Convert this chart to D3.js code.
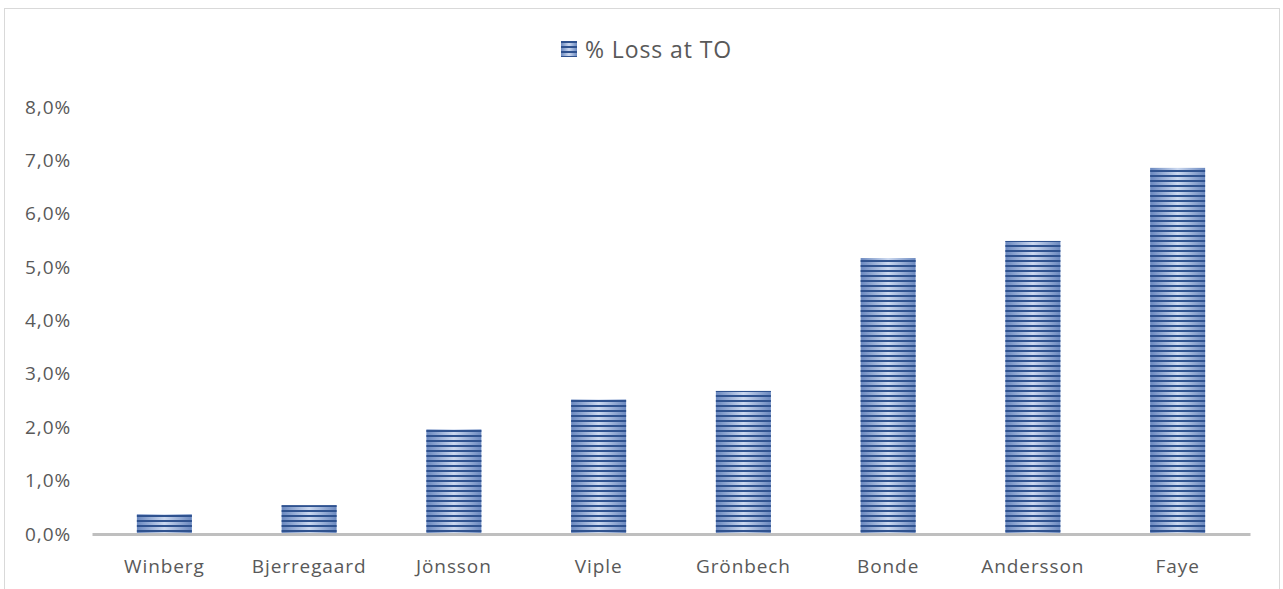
<!DOCTYPE html>
<html>
<head>
<meta charset="utf-8">
<script src="https://cdn.jsdelivr.net/npm/d3@7"></script>
<style>
  body { margin: 0; background: #fff; }
  svg text { font-family: "Open Sans", "Noto Sans", sans-serif; fill: #595959; }
</style>
</head>
<body>
<div id="chart"></div>
<script>
const categories = ["Winberg", "Bjerregaard", "Jönsson", "Viple", "Grönbech", "Bonde", "Andersson", "Faye"];
const lossValues = [0.37, 0.54, 1.96, 2.52, 2.68, 5.17, 5.49, 6.86];
const yTicks = [0, 1, 2, 3, 4, 5, 6, 7, 8];
const seriesName = "% Loss at TO";

const width = 1283, height = 589;
const margin = { top: 107, right: 33, bottom: 55, left: 92 };

const svg = d3.select("#chart").append("svg")
  .attr("width", width)
  .attr("height", height);

const defs = svg.append("defs");

// light body of each bar, darker toward its edges
const grad = defs.append("linearGradient")
  .attr("id", "barGrad")
  .attr("x1", "0").attr("y1", "0").attr("x2", "100%").attr("y2", "0");
grad.append("stop").attr("offset", "0%").attr("stop-color", "#6a88bf");
grad.append("stop").attr("offset", "50%").attr("stop-color", "#cbd8ef");
grad.append("stop").attr("offset", "100%").attr("stop-color", "#6a88bf");

// horizontal dark stripes
const stripes = defs.append("pattern")
  .attr("id", "stripes")
  .attr("patternUnits", "userSpaceOnUse")
  .attr("width", 10)
  .attr("height", 5);
stripes.append("rect")
  .attr("width", 10).attr("height", 2)
  .attr("fill", "#2f528f");

// chart border
svg.append("rect")
  .attr("x", 4.5).attr("y", 8.5)
  .attr("width", 1275).attr("height", 700)
  .attr("fill", "none")
  .attr("stroke", "#d9d9d9");

const x = d3.scaleBand()
  .domain(categories)
  .range([margin.left, width - margin.right])
  .paddingInner(0.62)
  .paddingOuter(0.31);

const y = d3.scaleLinear()
  .domain([0, 8])
  .range([height - margin.bottom, margin.top]);

const g = svg.append("g");

// bars
const bars = g.selectAll("g.bar")
  .data(categories.map((c, i) => ({ name: c, value: lossValues[i] })))
  .join("g")
  .attr("class", "bar");

bars.append("rect")
  .attr("x", d => x(d.name))
  .attr("y", d => y(d.value))
  .attr("width", x.bandwidth())
  .attr("height", d => y(0) - y(d.value))
  .attr("fill", "url(#barGrad)");

bars.append("rect")
  .attr("x", d => x(d.name))
  .attr("y", d => y(d.value))
  .attr("width", x.bandwidth())
  .attr("height", d => y(0) - y(d.value))
  .attr("fill", "url(#stripes)");

// y axis labels
const yAxis = d3.axisLeft(y)
  .tickValues(yTicks)
  .tickSize(0)
  .tickPadding(0)
  .tickFormat(d => d3.format(".1f")(d).replace(".", ",") + "%");

svg.append("g")
  .attr("transform", "translate(71,0)")
  .call(yAxis)
  .call(s => s.select(".domain").remove())
  .call(s => s.selectAll("text")
    .attr("font-size", 19)
    .attr("letter-spacing", "0.9px")
    .attr("font-family", null)
    .attr("fill", "#595959"));

// x axis
const xAxis = d3.axisBottom(x).tickSize(0).tickPadding(0);

svg.append("g")
  .attr("transform", `translate(0,${y(0)})`)
  .call(xAxis)
  .call(s => s.select(".domain")
    .attr("stroke", "#bfbfbf")
    .attr("stroke-width", 3))
  .call(s => s.selectAll("text")
    .attr("dy", "2.05em")
    .attr("font-size", 19)
    .attr("letter-spacing", "0.9px")
    .attr("font-family", null)
    .attr("fill", "#595959"));

// legend
const legend = svg.append("g").attr("transform", "translate(561,41)");
legend.append("rect")
  .attr("width", 16).attr("height", 16)
  .attr("fill", "url(#barGrad)");
legend.append("rect")
  .attr("width", 16).attr("height", 16)
  .attr("fill", "url(#stripes)");
legend.append("text")
  .attr("x", 24).attr("y", 9)
  .attr("dy", "0.35em")
  .attr("font-size", 23)
  .attr("letter-spacing", "0.9px")
  .text(seriesName);
</script>
</body>
</html>
